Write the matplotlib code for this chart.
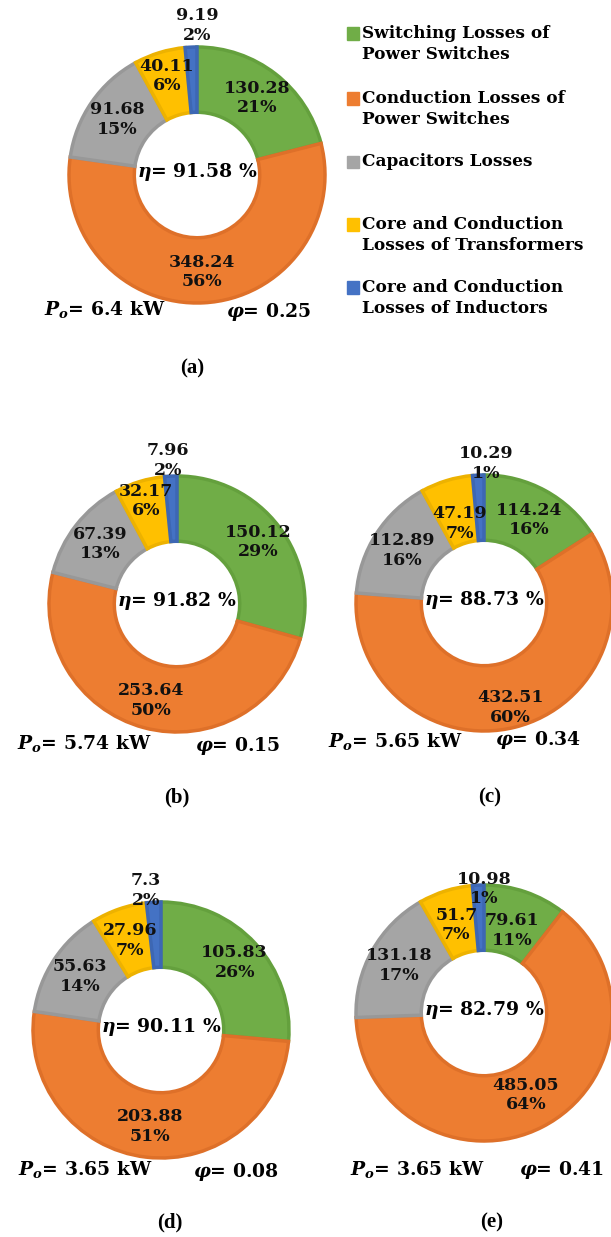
import matplotlib
matplotlib.use("Agg")
import matplotlib.pyplot as plt
import numpy as np

# figure size in pixels
W, H = 611, 1237

plt.rcParams['font.family'] = 'DejaVu Serif'
plt.rcParams['font.weight'] = 'bold'
plt.rcParams['mathtext.fontset'] = 'custom'
plt.rcParams['mathtext.rm'] = 'DejaVu Serif:bold'
plt.rcParams['mathtext.it'] = 'DejaVu Serif:italic:bold'
plt.rcParams['mathtext.bf'] = 'DejaVu Serif:bold'

# legend categories (clockwise order in every doughnut)
categories = ["Switching Losses of\nPower Switches",
              "Conduction Losses of\nPower Switches",
              "Capacitors Losses",
              "Core and Conduction\nLosses of Transformers",
              "Core and Conduction\nLosses of Inductors"]
colors = ['#70AD47', '#ED7D31', '#A5A5A5', '#FFC000', '#4472C4']
edge_colors = ['#64A03D', '#DE7029', '#989898', '#EDB200', '#3D67B3']

# losses (W) and percentages for each case
losses_a = [130.28, 348.24, 91.68, 40.11, 9.19]
losses_b = [150.12, 253.64, 67.39, 32.17, 7.96]
losses_c = [114.24, 432.51, 112.89, 47.19, 10.29]
losses_d = [105.83, 203.88, 55.63, 27.96, 7.3]
losses_e = [79.61, 485.05, 131.18, 51.7, 10.98]
pct_a = [21, 56, 15, 6, 2]
pct_b = [29, 50, 13, 6, 2]
pct_c = [16, 60, 16, 7, 1]
pct_d = [26, 51, 14, 7, 2]
pct_e = [11, 64, 17, 7, 1]

efficiency = ['91.58', '91.82', '88.73', '90.11', '82.79']
power_out = ['6.4', '5.74', '5.65', '3.65', '3.65']
phase = ['0.25', '0.15', '0.34', '0.08', '0.41']
panel_names = ['(a)', '(b)', '(c)', '(d)', '(e)']

losses = [losses_a, losses_b, losses_c, losses_d, losses_e]
pcts = [pct_a, pct_b, pct_c, pct_d, pct_e]

# layout (pixels): doughnut centre, radius, texts
centres = [(197, 175), (177, 604), (484, 603), (161, 1030), (484, 1013)]
radius_px = 128
po_pos = [(105, 310), (84, 743), (395, 741), (85, 1169), (417, 1169)]
phi_pos = [(268, 312), (238, 746), (538, 740), (236, 1172), (562, 1170)]
panel_pos = [(192, 368), (177, 797), (490, 797), (170, 1222), (492, 1222)]
# label radii for each slice (fraction of outer radius)
label_r = [[0.76, 0.76, 0.76, 0.81, None],
           [0.80, 0.78, 0.76, 0.84, None],
           [0.74, 0.84, 0.76, 0.65, None],
           [0.78, 0.76, 0.76, 0.74, None],
           [0.68, 0.72, 0.76, 0.72, None]]
# blue (inductor) label placed near the top of each ring
blue_xy = [(0.0, 1.17), (-0.07, 1.12), (0.02, 1.09), (-0.12, 1.09), (0.0, 0.97)]


def fx(x):
    return x / W


def fy(y):
    return 1 - y / H


fig = plt.figure(figsize=(W / 100, H / 100), dpi=100)

lim = 1.35
for i in range(5):
    cx, cy = centres[i]
    side = 2 * radius_px * lim
    ax = fig.add_axes([fx(cx - side / 2), fy(cy + side / 2), side / W, side / H])
    wedges, _ = ax.pie(losses[i], colors=colors, startangle=90, counterclock=False,
                       radius=1, wedgeprops=dict(width=0.51, linewidth=2.5))
    for w, ec in zip(wedges, edge_colors):
        w.set_edgecolor(ec)
    ax.set_xlim(-lim, lim)
    ax.set_ylim(-lim, lim)
    ax.set_aspect('equal')
    ax.axis('off')

    for j, w in enumerate(wedges):
        txt = str(losses[i][j]) + "\n" + str(pcts[i][j]) + "%"
        if label_r[i][j] is None:
            x, y = blue_xy[i]
        else:
            ang = np.deg2rad((w.theta1 + w.theta2) / 2)
            x, y = label_r[i][j] * np.cos(ang), label_r[i][j] * np.sin(ang)
        ax.text(x, y, txt, ha='center', va='center', fontsize=12.5,
                linespacing=1.2, color='#111111')

    ax.text(0, 0.02, r"$\eta$= " + efficiency[i] + " %", ha='center', va='center',
            fontsize=13.5)

    fig.text(fx(po_pos[i][0]), fy(po_pos[i][1]), r"$P_o$= " + power_out[i] + " kW",
             ha='center', va='center', fontsize=13.5)
    fig.text(fx(phi_pos[i][0]), fy(phi_pos[i][1]), r"$\varphi$= " + phase[i],
             ha='center', va='center', fontsize=13.5)
    fig.text(fx(panel_pos[i][0]), fy(panel_pos[i][1]), panel_names[i],
             ha='center', va='center', fontsize=15, family='Liberation Serif',
             weight='bold')

# legend on the right
legend_y = [44, 109, 162, 235, 298]
for k in range(5):
    first_line = legend_y[k] - (10.5 if "\n" in categories[k] else 0)
    fig.patches.append(plt.Rectangle((fx(347), fy(first_line + 6)), 12 / W, 12 / H,
                                     transform=fig.transFigure, color=colors[k]))
    fig.text(fx(362), fy(legend_y[k]), categories[k], ha='left', va='center',
             fontsize=12.2, linespacing=1.25)

fig.savefig("out.png", dpi=100)
